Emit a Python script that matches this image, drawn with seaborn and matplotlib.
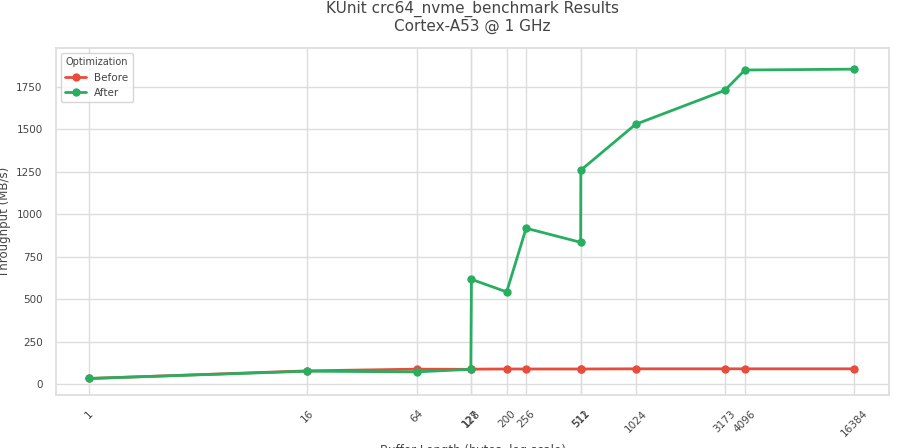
import matplotlib
matplotlib.use("Agg")
import matplotlib.pyplot as plt
import seaborn as sns
import pandas as pd

lengths = [1, 16, 64, 127, 128, 200, 256, 511, 512, 1024, 3173, 4096, 16384]
before = [33, 78, 88, 87, 88, 89, 89, 89, 89, 90, 90, 90, 90]
after = [33, 76, 72, 87, 617, 543, 918, 835, 1260, 1530, 1730, 1850, 1855]

df = pd.DataFrame({
    "len": lengths * 2,
    "tp": before + after,
    "Optimization": ["Before"] * len(lengths) + ["After"] * len(lengths),
})

sns.set_theme(style="whitegrid", rc={"axes.edgecolor": "#dddddd", "grid.color": "#dddddd",
                                     "text.color": "#444444", "axes.labelcolor": "#444444",
                                     "xtick.color": "#444444", "ytick.color": "#444444"})
fig, ax = plt.subplots(figsize=(9, 4.48), dpi=100)
sns.lineplot(data=df, x="len", y="tp", hue="Optimization", marker="o",
             palette={"Before": "#e74c3c", "After": "#27ae60"}, linewidth=2,
             markersize=6, markeredgewidth=0, ax=ax)
ax.set_xscale("log")
ax.set_xticks(lengths)
ax.set_xticklabels([str(v) for v in lengths], rotation=45, fontsize=7.5)
ax.minorticks_off()
ax.tick_params(axis="y", labelsize=7.5)
ax.set_xlim(0.66, 25500)
ax.set_ylim(-65, 1980)
ax.set_xlabel("Buffer Length (bytes, log scale)", fontsize=8.5)
ax.set_ylabel("Throughput (MB/s)", fontsize=8.5)
ax.set_title("KUnit crc64_nvme_benchmark Results\nCortex-A53 @ 1 GHz", fontsize=11, pad=12)
leg = ax.legend(title="Optimization", loc="upper left", fontsize=7.5, title_fontsize=7)
fig.subplots_adjust(left=0.062, right=0.988, top=0.893, bottom=0.118)
fig.savefig("out.png", dpi=100)
